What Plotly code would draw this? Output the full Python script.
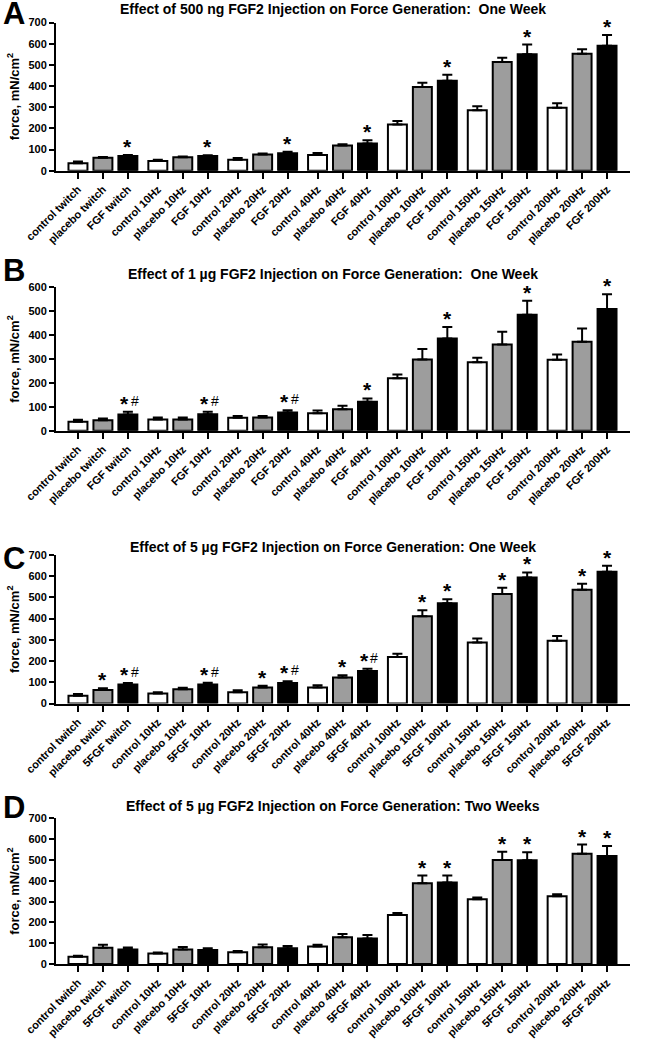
import plotly.graph_objects as go

W, H = 646, 1041
ML, MR = 56, 16

freqs = ["twitch", "10Hz", "20Hz", "40Hz", "100Hz", "150Hz", "200Hz"]

# ---- Panel A: 500 ng FGF2, one week ----
A_control = [35, 46, 52, 74, 218, 286, 297]
A_control_err = [8, 6, 8, 10, 17, 19, 22]
A_placebo = [61, 63, 77, 119, 395, 513, 552]
A_placebo_err = [4, 4, 4, 6, 20, 21, 22]
A_fgf = [70, 69, 83, 129, 425, 550, 590]
A_fgf_err = [4, 4, 6, 15, 28, 46, 51]
A_sig_placebo = ["", "", "", "", "", "", ""]
A_sig_fgf = ["*", "*", "*", "*", "*", "*", "*"]

# ---- Panel B: 1 µg FGF2, one week ----
B_control = [37, 47, 54, 73, 219, 286, 297]
B_control_err = [9, 8, 8, 11, 16, 19, 22]
B_placebo = [44, 47, 55, 90, 298, 361, 372]
B_placebo_err = [7, 8, 6, 14, 44, 53, 56]
B_fgf = [68, 69, 76, 121, 386, 485, 509]
B_fgf_err = [11, 10, 10, 14, 48, 59, 62]
B_sig_placebo = ["", "", "", "", "", "", ""]
B_sig_fgf = ["*#", "*#", "*#", "*", "*", "*", "*"]

# ---- Panel C: 5 µg FGF2, one week ----
C_control = [37, 47, 53, 75, 219, 287, 296]
C_control_err = [8, 6, 9, 11, 16, 19, 22]
C_placebo = [64, 67, 75, 122, 411, 516, 536]
C_placebo_err = [8, 7, 9, 11, 28, 30, 28]
C_fgf = [90, 89, 97, 153, 472, 594, 621]
C_fgf_err = [7, 9, 8, 11, 20, 24, 28]
C_sig_placebo = ["*", "", "*", "*", "*", "*", "*"]
C_sig_fgf = ["*#", "*#", "*#", "*#", "*", "*", "*"]

# ---- Panel D: 5 µg FGF2, two weeks ----
D_control = [35, 50, 57, 84, 236, 311, 325]
D_control_err = [5, 5, 6, 8, 9, 8, 10]
D_placebo = [78, 70, 80, 128, 388, 500, 530]
D_placebo_err = [14, 12, 14, 16, 37, 39, 44]
D_fgf = [70, 67, 76, 123, 391, 498, 519]
D_fgf_err = [9, 9, 11, 16, 34, 39, 48]
D_sig_placebo = ["", "", "", "", "*", "*", "*"]
D_sig_fgf = ["", "", "", "", "*", "*", "*"]

panels = [
    dict(letter="A", title="Effect of 500 ng FGF2 Injection on Force Generation:  One Week",
         treat="FGF", ymax=700, control=A_control, control_err=A_control_err,
         placebo=A_placebo, placebo_err=A_placebo_err, fgf=A_fgf, fgf_err=A_fgf_err,
         sig_p=A_sig_placebo, sig_f=A_sig_fgf, top=22.5, bottom=170.7,
         title_y=9, letter_y=14),
    dict(letter="B", title="Effect of 1 µg FGF2 Injection on Force Generation:  One Week",
         treat="FGF", ymax=600, control=B_control, control_err=B_control_err,
         placebo=B_placebo, placebo_err=B_placebo_err, fgf=B_fgf, fgf_err=B_fgf_err,
         sig_p=B_sig_placebo, sig_f=B_sig_fgf, top=287.3, bottom=430.7,
         title_y=274, letter_y=270),
    dict(letter="C", title="Effect of 5 µg FGF2 Injection on Force Generation: One Week",
         treat="5FGF", ymax=700, control=C_control, control_err=C_control_err,
         placebo=C_placebo, placebo_err=C_placebo_err, fgf=C_fgf, fgf_err=C_fgf_err,
         sig_p=C_sig_placebo, sig_f=C_sig_fgf, top=555, bottom=703.5,
         title_y=547, letter_y=558),
    dict(letter="D", title="Effect of 5 µg FGF2 Injection on Force Generation: Two Weeks",
         treat="5FGF", ymax=700, control=D_control, control_err=D_control_err,
         placebo=D_placebo, placebo_err=D_placebo_err, fgf=D_fgf, fgf_err=D_fgf_err,
         sig_p=D_sig_placebo, sig_f=D_sig_fgf, top=818.3, bottom=964,
         title_y=806, letter_y=807),
]

GROUP_STEP = 3.2
BAR_W = 0.76
NARROW = "Liberation Sans Narrow, Arial Narrow, Liberation Sans, Arial, sans-serif"
ARIAL = "Liberation Sans, Arial, sans-serif"
PW = W - ML - MR


def px_to_paper_x(px):
    return (px - ML) / PW


def px_to_paper_y(py):
    return 1 - py / H


fig = go.Figure()
annotations = []
layout = {}

for i, p in enumerate(panels):
    n = i + 1
    xa = "x" if n == 1 else f"x{n}"
    ya = "y" if n == 1 else f"y{n}"
    xpos = {}
    for j, kind in enumerate(["control", "placebo", "fgf"]):
        xpos[kind] = [g * GROUP_STEP + j for g in range(len(freqs))]
    colors = {"control": "white", "placebo": "#9d9d9d", "fgf": "black"}
    for kind in ["control", "placebo", "fgf"]:
        fig.add_trace(go.Bar(
            x=xpos[kind], y=p[kind], width=BAR_W, xaxis=xa, yaxis=ya,
            marker=dict(color=colors[kind], line=dict(color="black", width=2)),
            error_y=dict(type="data", array=p[kind + "_err"], arrayminus=[0] * len(freqs),
                         symmetric=False, color="black", thickness=2, width=5),
            showlegend=False, hoverinfo="skip",
        ))
    # significance markers
    for kind, sig in [("placebo", p["sig_p"]), ("fgf", p["sig_f"])]:
        for g, s in enumerate(sig):
            if not s:
                continue
            xv = xpos[kind][g]
            yv = p[kind][g] + p[kind + "_err"][g]
            annotations.append(dict(
                x=xv, y=yv, xref=xa, yref=ya, text="*", showarrow=False,
                yanchor="bottom", xanchor="center", yshift=-5,
                xshift=(-3 if "#" in s else 0),
                font=dict(family=ARIAL, size=21, color="black", weight="bold"),
            ))
            if "#" in s:
                annotations.append(dict(
                    x=xv, y=yv, xref=xa, yref=ya, text="#", showarrow=False,
                    yanchor="bottom", xanchor="center", yshift=1, xshift=7,
                    font=dict(family=ARIAL, size=14, color="black"),
                ))
    tickvals, ticktext = [], []
    for g, f in enumerate(freqs):
        for j, pre in enumerate(["control", "placebo", p["treat"]]):
            tickvals.append(g * GROUP_STEP + j)
            ticktext.append(f"{pre} {f}")
    layout["xaxis" if n == 1 else f"xaxis{n}"] = dict(
        domain=[0, 1], anchor=ya, range=[-0.88, 22.12], automargin=False,
        tickvals=tickvals, ticktext=ticktext, tickangle=-45,
        showline=True, linewidth=2, linecolor="black", ticks="outside",
        ticklen=6, tickwidth=2, tickcolor="black", showgrid=False, zeroline=False,
        tickfont=dict(family=ARIAL, size=11, color="black", weight="bold"),
    )
    layout["yaxis" if n == 1 else f"yaxis{n}"] = dict(
        domain=[px_to_paper_y(p["bottom"]), px_to_paper_y(p["top"])], anchor=xa,
        range=[0, p["ymax"]], dtick=100, showline=True, linewidth=2, linecolor="black",
        ticks="outside", ticklen=5, tickwidth=2, tickcolor="black", automargin=False,
        showgrid=False, zeroline=False,
        tickfont=dict(family=NARROW, size=11, color="black", weight="bold"),
        title=dict(text="force, mN/cm<sup>2</sup>", standoff=6,
                   font=dict(family=ARIAL, size=13, color="black", weight="bold")),
    )
    annotations.append(dict(
        x=px_to_paper_x(333), y=px_to_paper_y(p["title_y"]), xref="paper", yref="paper",
        text=p["title"], showarrow=False, xanchor="center", yanchor="middle",
        font=dict(family=NARROW, size=14, color="black", weight="bold"),
    ))
    annotations.append(dict(
        x=px_to_paper_x(14), y=px_to_paper_y(p["letter_y"]), xref="paper", yref="paper",
        text=p["letter"], showarrow=False, xanchor="center", yanchor="middle",
        font=dict(family=ARIAL, size=31, color="black", weight="bold"),
    ))

fig.update_layout(
    width=W, height=H, margin=dict(l=ML, r=MR, t=0, b=0, autoexpand=False),
    paper_bgcolor="white", plot_bgcolor="white", barmode="overlay",
    annotations=annotations, **layout,
)

fig.write_html(
    "out.html",
    config={"displayModeBar": False},
    post_script="document.body.style.margin='0';document.body.style.overflow='hidden';",
)
